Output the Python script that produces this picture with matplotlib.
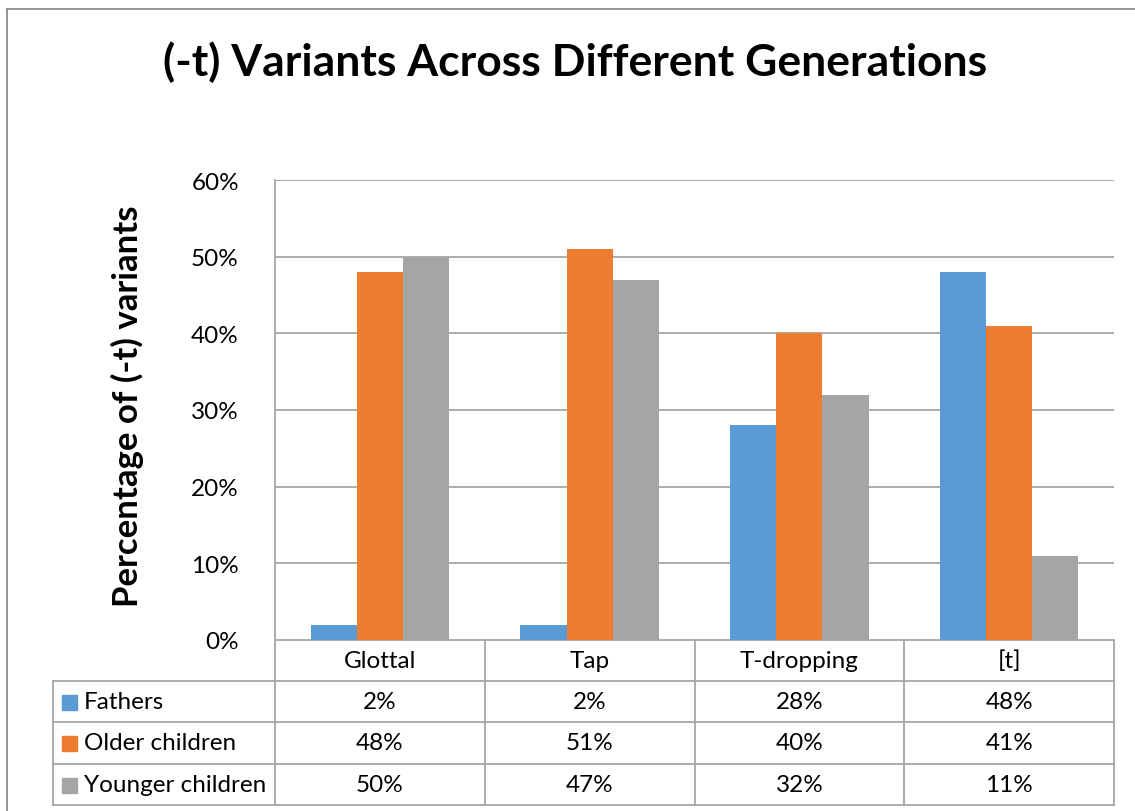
import matplotlib
matplotlib.use("Agg")
import matplotlib.pyplot as plt
import numpy as np
from matplotlib.ticker import PercentFormatter

categories = ["Glottal", "Tap", "T-dropping", "[t]"]
series_names = ["Fathers", "Older children", "Younger children"]
fathers = [2, 2, 28, 48]
older = [48, 51, 40, 41]
younger = [50, 47, 32, 11]
series_values = [fathers, older, younger]
colors = ["#5B9BD5", "#ED7D31", "#A5A5A5"]
yticks = [0, 10, 20, 30, 40, 50, 60]

title = "(-t) Variants Across Different Generations"
ylabel = "Percentage of (-t) variants"

W, H = 1135, 812
FONT = "Lato"
plt.rcParams['font.family'] = [FONT, 'DejaVu Sans']
FS = 17.5

fig = plt.figure(figsize=(W / 100, H / 100), dpi=100)

def fx(px):
    return px / W

def fy(py):
    return 1 - py / H

# plot area in pixels
L, R, T, B = 275, 1114, 181, 641
ax = fig.add_axes([fx(L), fy(B), fx(R) - fx(L), fy(T) - fy(B)])

n = len(categories)
x = np.arange(n)
bw = 0.22
offsets = [-bw, 0, bw]
for vals, off, c, name in zip(series_values, offsets, colors, series_names):
    ax.bar(x + off, vals, width=bw, color=c, label=name, zorder=3)

ax.set_xlim(-0.5, n - 0.5)
ax.set_ylim(0, 60)
ax.set_yticks(yticks)
ax.yaxis.set_major_formatter(PercentFormatter(decimals=0))
ax.set_xticks([])
ax.grid(axis='y', color='#A6A6A6', linewidth=1.3, zorder=0)
for s in ['top', 'right', 'bottom']:
    ax.spines[s].set_visible(False)
ax.spines['left'].set_color('#A6A6A6')
ax.spines['left'].set_linewidth(1.3)
ax.tick_params(axis='y', length=0, pad=26, labelsize=FS, labelcolor='#000000')
ax.set_ylabel(ylabel, fontsize=25, fontweight='bold')
ax.yaxis.set_label_coords((144 - L) / (R - L), 0.51)

# overlay for table and frame
ov = fig.add_axes([0, 0, 1, 1], zorder=-1)
ov.set_xlim(0, W)
ov.set_ylim(H, 0)
ov.axis('off')
ov.patch.set_alpha(0)

# outer frame
ov.plot([7, W], [10, 10], color='#8C8C8C', lw=1.3)
ov.plot([7, 7], [10, H], color='#8C8C8C', lw=1.3)

# title
fig.text(fx(575), fy(62), title, ha='center', va='center', fontsize=32,
         fontweight='bold', family=[FONT, 'DejaVu Sans'])

# data table
lc = '#A6A6A6'
lw = 1.3
cw = (R - L) / n
row_y = [641, 682, 723, 765, 806]
TL = 53
ov.plot([L, R], [row_y[0], row_y[0]], color=lc, lw=lw)
for yy in row_y[1:]:
    ov.plot([TL, R], [yy, yy], color=lc, lw=lw)
for i in range(n + 1):
    xx = L + i * cw
    ov.plot([xx, xx], [row_y[0], row_y[-1]], color=lc, lw=lw)
ov.plot([TL, TL], [row_y[1], row_y[-1]], color=lc, lw=lw)

for i, cat in enumerate(categories):
    ov.text(L + (i + 0.5) * cw, (row_y[0] + row_y[1]) / 2, cat,
            ha='center', va='center', fontsize=FS)
for r, (name, vals, c) in enumerate(zip(series_names, series_values, colors)):
    yc = (row_y[r + 1] + row_y[r + 2]) / 2
    ov.add_patch(plt.Rectangle((62, yc - 7), 15, 15, color=c))
    ov.text(84, yc, name, ha='left', va='center', fontsize=FS)
    for i, v in enumerate(vals):
        ov.text(L + (i + 0.5) * cw, yc, f"{v}%", ha='center', va='center', fontsize=FS)

fig.savefig("out.png", dpi=100, facecolor='white')
